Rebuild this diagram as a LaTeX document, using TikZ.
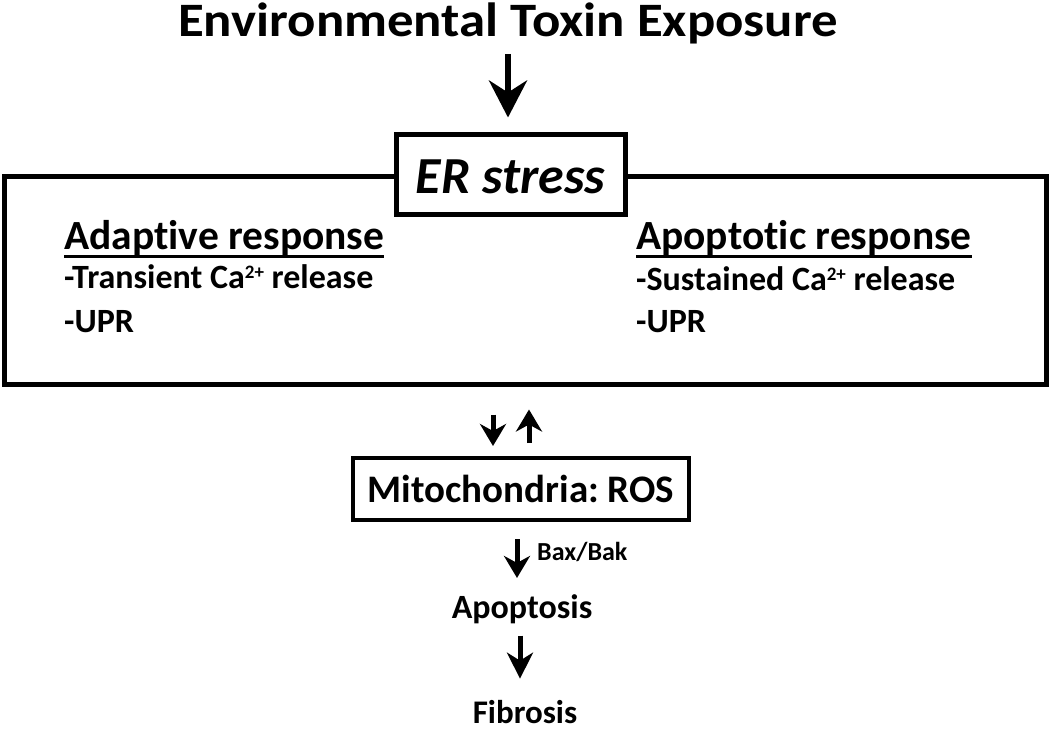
\documentclass[tikz,border=0pt]{standalone}
\usepackage{fontspec}
\setmainfont{Carlito}[Ligatures=CommonOff]
\newfontfamily\titlefont{Carlito}[Ligatures=CommonOff, FakeStretch=1.1]
\usetikzlibrary{arrows.meta}
\frenchspacing
\newcommand\supt[1]{\raisebox{10pt}{\fontsize{19}{19}\selectfont #1}}
\newcommand\myul[1]{\setbox0=\hbox{#1}\leavevmode\rlap{\rule[-9pt]{\wd0}{3.5pt}}\box0}
\begin{document}
\begin{tikzpicture}[x=1pt,y=-1pt,
  txt/.style={inner sep=0pt, font=\bfseries},
  bigarr/.style={line width=6pt, -{Stealth[length=37pt,width=38pt,inset=12pt]}},
  smallarr/.style={line width=5pt, -{Stealth[length=22pt,width=26pt,inset=7pt]}},
  midarr/.style={line width=5pt, -{Stealth[length=26pt,width=26pt,inset=8pt]}},
  framebox/.style={draw, line width=5pt, inner sep=0pt}]
\useasboundingbox (0,0) rectangle (1050,732);
\node[txt, anchor=base, font=\titlefont\bfseries\fontsize{48}{56}\selectfont] (title) at (508,36) {Environmental Toxin Exposure};
\node[framebox, minimum width=1042pt, minimum height=208pt] (panel) at (525,280) {};
\node[framebox, fill=white, minimum width=229pt, minimum height=80pt, text height=38pt, text depth=0pt, font=\bfseries\itshape\fontsize{52}{60}\selectfont] (er) at (510.5,174) {ER stress};
\node[txt, anchor=base west, font=\bfseries\fontsize{41.5}{50}\selectfont] (adh) at (64,249) {\myul{Adaptive response}};
\node[txt, anchor=base west, font=\bfseries\fontsize{34}{40}\selectfont] (ad1) at (64,288) {-Transient Ca\supt{2+} release};
\node[txt, anchor=base west, font=\bfseries\fontsize{34}{40}\selectfont] (ad2) at (64,332) {-UPR};
\node[txt, anchor=base west, font=\bfseries\fontsize{41.5}{50}\selectfont] (aph) at (636,249) {\myul{Apoptotic response}};
\node[txt, anchor=base west, font=\bfseries\fontsize{34}{40}\selectfont] (ap1) at (636,290) {-Sustained Ca\supt{2+} release};
\node[txt, anchor=base west, font=\bfseries\fontsize{34}{40}\selectfont] (ap2) at (636,332) {-UPR};
\node[framebox, line width=4pt, minimum width=336pt, minimum height=62pt, font=\bfseries\fontsize{39}{46}\selectfont] (mito) at (521,489) {Mitochondria: ROS};
\node[txt, anchor=base west, font=\bfseries\fontsize{26}{30}\selectfont] (bax) at (537,560) {Bax/Bak};
\node[txt, anchor=base, font=\bfseries\fontsize{34}{40}\selectfont] (apo) at (522,618) {Apoptosis};
\node[txt, anchor=base, font=\bfseries\fontsize{33}{40}\selectfont] (fib) at (525,723) {Fibrosis};
\coordinate (cd) at (493,0);
\coordinate (cu) at (529,0);
\coordinate (cb) at (517,0);
\coordinate (cf) at (520,0);
\draw[bigarr, shorten <=10pt, shorten >=14pt] (title.south) -- (title.south |- er.north);
\draw[smallarr, shorten <=28pt, shorten >=10pt] (cd |- panel.south) -- (cd |- mito.north);
\draw[smallarr, shorten <=13pt, shorten >=23pt] (cu |- mito.north) -- (cu |- panel.south);
\draw[smallarr, shorten <=17pt, shorten >=16pt] (cb |- mito.south) -- (cb |- apo.north);
\draw[midarr, shorten <=12pt, shorten >=21pt] (cf |- apo.south) -- (cf |- fib.north);
\end{tikzpicture}
\end{document}
